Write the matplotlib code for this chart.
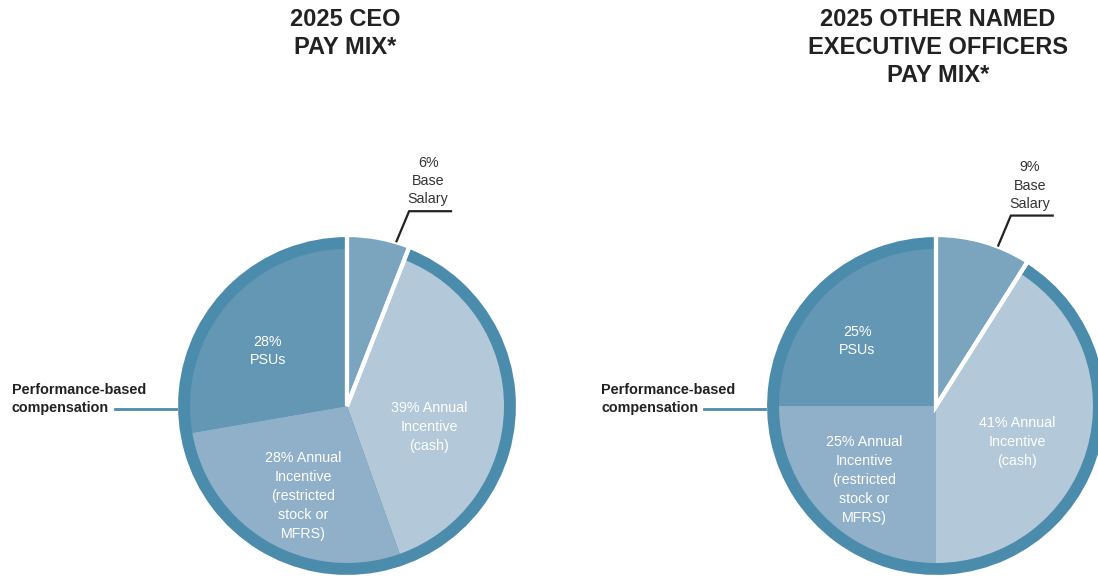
import numpy as np
import matplotlib.pyplot as plt

plt.rcParams['font.family'] = ['Liberation Sans', 'DejaVu Sans']

# data
slice_names = ["Base Salary", "Annual Incentive (cash)",
               "Annual Incentive (restricted stock or MFRS)", "PSUs"]
ceo_vals = [6, 39, 28, 28]
neo_vals = [9, 41, 25, 25]

ceo_title = "2025 CEO\nPAY MIX*"
neo_title = "2025 OTHER NAMED\nEXECUTIVE OFFICERS\nPAY MIX*"

ring_col = "#4b8bab"
slice_cols = ["#7ba4bf", "#b3c8d9", "#8fb0c8", "#6397b4"]
dark = "#222222"

fig = plt.figure(figsize=(10.98, 5.81), dpi=100)
ax = fig.add_axes([0, 0, 1, 1])

R = 171
inner = 157


def draw_mix(cx, cy, vals, title, title_x, texts, salary_txt, leader_off):
    base, perf = vals[0], sum(vals[1:])
    # outer disc: base salary at full radius, one ring wedge for the rest
    w_out, _ = ax.pie([base, perf], radius=R, center=(cx, cy), startangle=-90,
                      counterclock=True, colors=[slice_cols[0], ring_col],
                      wedgeprops=dict(linewidth=0), frame=True)
    ax.pie(vals, radius=inner, center=(cx, cy), startangle=-90, counterclock=True,
           colors=slice_cols, wedgeprops=dict(linewidth=0), frame=True)
    # white split around base salary
    ax.pie([base, perf], radius=R, center=(cx, cy), startangle=-90,
           counterclock=True, colors=['none', 'none'],
           wedgeprops=dict(edgecolor='white', linewidth=3), frame=True)

    for (tx, ty, s) in texts:
        ax.text(cx + tx, cy + ty, s, ha='center', va='center', color='white',
                fontsize=10.3, linespacing=1.45)

    # base salary call-out
    w = w_out[0]
    a = np.deg2rad((w.theta1 + w.theta2) / 2 + leader_off)
    x0, y0 = cx + R * np.cos(a), cy + R * np.sin(a)
    ax.plot([x0, x0 + 13, x0 + 56], [y0, y0 - 31, y0 - 31], color=dark, lw=1.6,
            solid_capstyle='butt')
    ax.text(x0 + 32, y0 - 61, salary_txt, ha='center', va='center', color='#333333',
            fontsize=10.3, linespacing=1.38)

    ax.text(title_x, 8, title, ha='center', va='top', fontsize=17, fontweight='bold',
            color=dark, linespacing=1.27)

    # performance-based bracket
    ax.text(cx - 335, cy - 7, "Performance-based\ncompensation", ha='left', va='center',
            fontsize=10.4, fontweight='bold', color=dark, linespacing=1.38)
    ax.plot([cx - 232, cx - R], [cy + 3, cy + 3], color=ring_col, lw=2)


ceo_texts = [(-79, -55, "28%\nPSUs"),
             (82, 21, "39% Annual\nIncentive\n(cash)"),
             (-44, 90, "28% Annual\nIncentive\n(restricted\nstock or\nMFRS)")]
neo_texts = [(-79, -65, "25%\nPSUs"),
             (81, 36, "41% Annual\nIncentive\n(cash)"),
             (-72, 74, "25% Annual\nIncentive\n(restricted\nstock or\nMFRS)")]

draw_mix(347, 406, ceo_vals, ceo_title, 345, ceo_texts, "6%\nBase\nSalary", 6)
draw_mix(936, 406, neo_vals, neo_title, 938, neo_texts, "9%\nBase\nSalary", 5)

ax.set_aspect('equal')
ax.set_xlim(0, 1098)
ax.set_ylim(581, 0)
ax.axis('off')

fig.savefig("out.png", dpi=100, facecolor='white')
